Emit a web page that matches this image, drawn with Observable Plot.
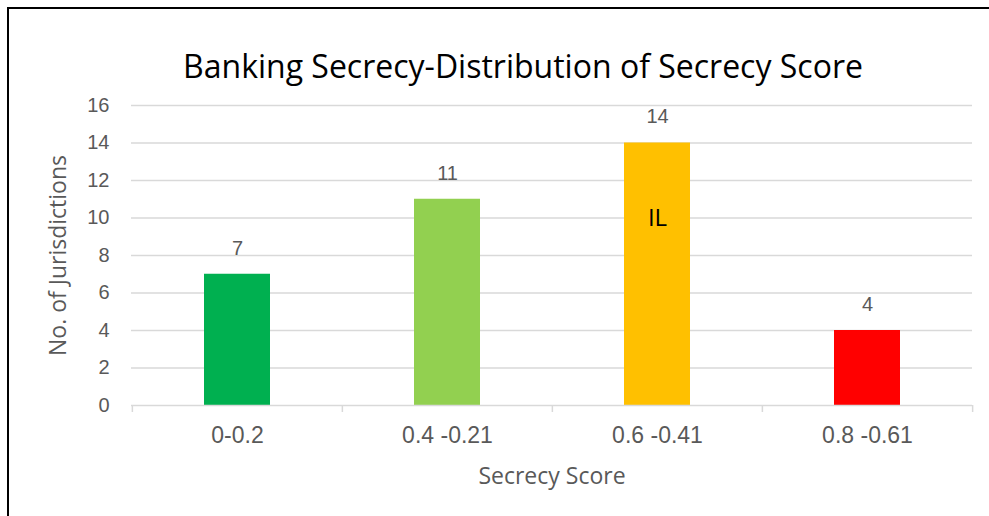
<!DOCTYPE html>
<html>
<head>
<meta charset="utf-8">
<script src="https://cdn.jsdelivr.net/npm/d3@7"></script>
<script src="https://cdn.jsdelivr.net/npm/@observablehq/plot@0.6"></script>
<style>
  html, body { margin: 0; padding: 0; background: #fff; overflow: hidden; }
  #wrap { position: relative; width: 989px; height: 516px; overflow: hidden; }
  #lineL { position: absolute; left: 7px; top: 7px; width: 2px; height: 520px; background: #000; }
  #lineT { position: absolute; left: 7px; top: 7px; width: 990px; height: 2px; background: #000; }
  #title { position: absolute; left: 0; width: 1046px; top: 46px; text-align: center; font-family: "Open Sans", sans-serif; font-size: 32px; color: #000; line-height: 40px; }
  #chart { position: absolute; left: 0; top: 0; }
</style>
</head>
<body>
<div id="wrap">
  <div id="chart"></div>
  <div id="lineL"></div>
  <div id="lineT"></div>
  <div id="title">Banking Secrecy-Distribution of Secrecy Score</div>
</div>
<script>
const categories = ["0-0.2", "0.4 -0.21", "0.6 -0.41", "0.8 -0.61"];
const counts = [7, 11, 14, 4];
const barColors = ["#00B050", "#92D050", "#FFC000", "#FF0000"];
const yTicks = [0, 2, 4, 6, 8, 10, 12, 14, 16];
const annotation = [{cat: "0.6 -0.41", y: 10, label: "IL"}];

const data = categories.map((c, i) => ({cat: c, n: counts[i], color: barColors[i]}));

const W = 989, H = 516, ml = 131, mr = 17, mt = 105, mb = 111;
const step = (W - ml - mr) / categories.length;
const tickFont = "'Liberation Sans', Arial, sans-serif";
const labelFont = "'Open Sans', sans-serif";

const chart = Plot.plot({
  width: W, height: H,
  marginLeft: ml, marginRight: mr, marginTop: mt, marginBottom: mb,
  style: {fontFamily: tickFont, fontSize: "20px", color: "#595959", background: "transparent"},
  x: {domain: categories, paddingInner: 0.686, paddingOuter: 0.343, label: null, axis: null},
  y: {domain: [0, 16], ticks: yTicks, label: null, axis: null},
  marks: [
    Plot.gridY(yTicks.filter(d => d > 0), {stroke: "#d9d9d9", strokeOpacity: 1, strokeWidth: 1.3}),
    Plot.barY(data, {x: "cat", y: "n", fill: "color"}),
    Plot.ruleY([0], {stroke: "#d9d9d9", strokeWidth: 1.5}),
    Plot.ruleX(categories, {x: d => d, y1: 0, y2: 0, dx: -step / 2, insetBottom: -7, stroke: "#d9d9d9", strokeWidth: 1.5}),
    Plot.ruleX([categories[categories.length - 1]], {x: d => d, y1: 0, y2: 0, dx: step / 2, insetBottom: -7, stroke: "#d9d9d9", strokeWidth: 1.5}),
    Plot.axisY(yTicks, {tickSize: 0, tickPadding: 22, fill: "#595959", fontSize: 20, label: null}),
    Plot.axisX({tickSize: 0, tickPadding: 21, fill: "#595959", fontSize: 23, label: null}),
    Plot.text(data, {x: "cat", y: "n", text: d => String(d.n), dy: -26, fill: "#595959", fontSize: 20}),
    Plot.text(annotation, {x: "cat", y: "y", text: "label", fill: "#000", fontSize: 24, fontFamily: labelFont}),
    Plot.text(["Secrecy Score"], {frameAnchor: "bottom", dy: 78, fill: "#595959", fontSize: 23, fontFamily: labelFont}),
    Plot.text(["No. of Jurisdictions"], {frameAnchor: "left", textAnchor: "middle", rotate: -90, dx: -73, fill: "#595959", fontSize: 23, fontFamily: labelFont})
  ]
});
document.getElementById("chart").appendChild(chart);
</script>
</body>
</html>
